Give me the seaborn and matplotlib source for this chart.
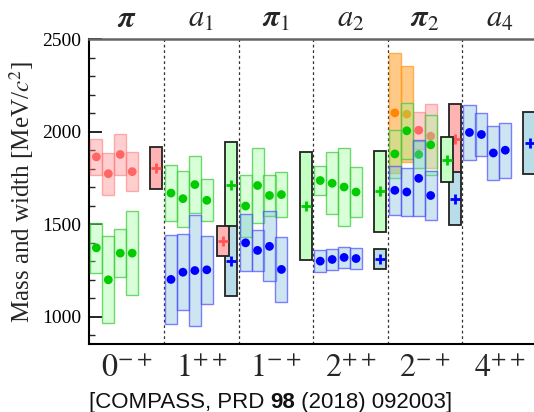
import numpy as np
import pandas as pd
import matplotlib
matplotlib.use("Agg")
import matplotlib.pyplot as plt
from matplotlib.ticker import MultipleLocator
import matplotlib.transforms as mtransforms
import seaborn as sns

# ---------------- data (MeV/c^2) ----------------
groups_bottom = [r"$0^{-+}$", r"$1^{++}$", r"$1^{-+}$", r"$2^{++}$", r"$2^{-+}$", r"$4^{++}$"]
groups_top = [r"$\mathbfit{\pi}$", r"$a_1$", r"$\mathbfit{\pi}_1$", r"$a_2$", r"$\mathbfit{\pi}_2$", r"$a_4$"]

# model results: (group index, slot index, mass, width)
orange_group = [4, 4]
orange_slot = [0, 1]
orange_mass = [2102, 2095]
orange_width = [650, 517]

red_group = [0, 0, 0, 0, 4, 4]
red_slot = [0, 1, 2, 3, 2, 3]
red_mass = [1864, 1773, 1877, 1784, 2008, 1976]
red_width = [192, 227, 223, 208, 200, 344]

green_group = [0, 0, 0, 0, 1, 1, 1, 1, 2, 2, 2, 2, 3, 3, 3, 3, 4, 4, 4, 4]
green_slot = [0, 1, 2, 3] * 5
green_mass = [1372, 1199, 1343, 1343,
              1668, 1638, 1714, 1629,
              1598, 1709, 1655, 1660,
              1736, 1721, 1701, 1674,
              1880, 2005, 1877, 1929]
green_width = [269, 472, 261, 451,
               303, 302, 307, 226,
               340, 405, 221, 241,
               152, 336, 419, 274,
               256, 305, 148, 323]

blue_group = [1, 1, 1, 1, 2, 2, 2, 2, 3, 3, 3, 3, 4, 4, 4, 4, 5, 5, 5, 5]
blue_slot = [0, 1, 2, 3] * 5
blue_mass = [1201, 1240, 1249, 1253,
             1399, 1358, 1380, 1255,
             1300, 1309, 1320, 1314,
             1683, 1674, 1748, 1655,
             1996, 1985, 1885, 1900]
blue_width = [481, 412, 603, 368,
              309, 221, 380, 356,
              119, 113, 110, 117,
              265, 258, 412, 270,
              302, 233, 297, 298]

# COMPASS results (black boxes): group, column (0 = main, 1 = second), colour, mass, width
exp_group = [0, 1, 1, 1, 2, 3, 3, 4, 4, 4, 5]
exp_col = [0, 1, 0, 0, 0, 0, 0, 1, 0, 0, 0]
exp_color = ["red", "red", "green", "blue", "green", "green", "blue", "green", "red", "blue", "blue"]
exp_mass = [1804, 1410, 1712, 1300, 1598, 1679, 1311, 1849, 1963, 1638, 1938]
exp_width = [223, 163, 470, 381, 582, 438, 106, 246, 372, 290, 334]

# ---------------- style ----------------
sns.set_theme(style="ticks")
plt.rcParams["font.family"] = ["Liberation Serif", "DejaVu Serif"]
plt.rcParams["mathtext.fontset"] = "stix"

fig = plt.figure(figsize=(5.34, 4.12), dpi=100)
ax = fig.add_axes([0.1672, 0.1643, 0.8384, 0.7403])

SLOT0, SLOTW = 0.095, 0.16
BOXW = 0.162
EXP_X = [0.90, 0.79]

styles = {
    "orange": dict(face=(1.0, 0.62, 0.15, 0.55), edge=(1.0, 0.6, 0.1, 0.7), dot="#ff8800"),
    "red": dict(face=(1.0, 0.5, 0.5, 0.38), edge=(1.0, 0.45, 0.45, 0.55), dot="#ff6666"),
    "green": dict(face=(0.55, 1.0, 0.55, 0.33), edge=(0.25, 0.8, 0.25, 0.75), dot="#00cc00"),
    "blue": dict(face=(0.48, 0.74, 0.85, 0.38), edge=(0.3, 0.3, 1.0, 0.7), dot="#0000ff"),
}
exp_face = {"red": "#ffb3b3", "green": "#c4ffc4", "blue": "#b8dce8"}
exp_mark = {"red": "#ff5555", "green": "#00cc00", "blue": "#0000ff"}

series = [
    ("orange", orange_group, orange_slot, orange_mass, orange_width),
    ("red", red_group, red_slot, red_mass, red_width),
    ("green", green_group, green_slot, green_mass, green_width),
    ("blue", blue_group, blue_slot, blue_mass, blue_width),
]

z = 2
for name, g, s, m, w in series:
    df = pd.DataFrame({"g": g, "s": s, "mass": m, "width": w})
    df["x"] = df["g"] + SLOT0 + SLOTW * df["s"]
    st = styles[name]
    ax.bar(df["x"], df["width"], bottom=df["mass"] - df["width"] / 2, width=BOXW,
           facecolor=st["face"], edgecolor=st["edge"], linewidth=1.0, zorder=z)
    sns.scatterplot(data=df, x="x", y="mass", color=st["dot"], s=40, edgecolor="none",
                    linewidth=0, ax=ax, zorder=z + 0.5, legend=False)
    z += 1

edf = pd.DataFrame({"g": exp_group, "c": exp_col, "col": exp_color, "mass": exp_mass, "width": exp_width})
edf["x"] = edf["g"] + [EXP_X[c] for c in edf["c"]]
for c in [0, 1]:
    sub = edf[edf["c"] == c]
    for _, r in sub.iterrows():
        ax.bar([r["x"]], [r["width"]], bottom=[r["mass"] - r["width"] / 2], width=BOXW,
               facecolor=exp_face[r["col"]], edgecolor="#222222", linewidth=1.3, zorder=z)
        sns.scatterplot(x=[r["x"]], y=[r["mass"]], marker="+", s=55, linewidth=2.0,
                        color=exp_mark[r["col"]], ax=ax, zorder=z + 0.5, legend=False)
    z += 1

for k in range(1, 6):
    ax.axvline(k, color="#333333", lw=0.9, ls=(0, (2.2, 2.2)), zorder=1)

ax.set_xlim(0, 6)
ax.set_ylim(850, 2500)
ax.yaxis.set_major_locator(MultipleLocator(500))
ax.yaxis.set_minor_locator(MultipleLocator(100))
ax.tick_params(axis="y", which="major", direction="in", length=9, width=1.2, labelsize=14,
               pad=6, colors="black")
ax.tick_params(axis="y", which="minor", direction="in", length=4.5, width=1.0)
ax.set_xticks([])
ax.set_xlabel("")
ax.set_ylabel(r"Mass and width [MeV/$c^2$]", fontsize=18, labelpad=4)
for lab in ax.get_yticklabels():
    lab.set_fontfamily(["Liberation Serif"])

for side in ["left", "bottom"]:
    ax.spines[side].set_linewidth(1.5)
    ax.spines[side].set_color("black")
ax.spines["top"].set_linewidth(1.8)
ax.spines["top"].set_color("#666666")
ax.spines["right"].set_linewidth(1.5)

trans = mtransforms.blended_transform_factory(ax.transData, fig.transFigure)
for i, lab in enumerate(groups_bottom):
    ax.text(i + 0.5, 0.086, lab, transform=trans, ha="center", va="baseline", fontsize=23)
for i, lab in enumerate(groups_top):
    ax.text(i + 0.5, 0.934, lab, transform=trans, ha="center", va="baseline", fontsize=22)

# caption with bold volume number
fig.canvas.draw()
renderer = fig.canvas.get_renderer()
parts = [("[COMPASS, PRD ", "normal"), ("98", "bold"), (" (2018) 092003]", "normal")]
x0 = 89.0 / 534
for txt, wt in parts:
    t = fig.text(x0, 0.024, txt, fontsize=16, fontweight=wt, va="center", ha="left",
                 family=["Liberation Sans", "DejaVu Sans"], color="#111111")
    bb = t.get_window_extent(renderer=renderer)
    x0 += bb.width / fig.bbox.width

fig.savefig("out.png", dpi=100)
